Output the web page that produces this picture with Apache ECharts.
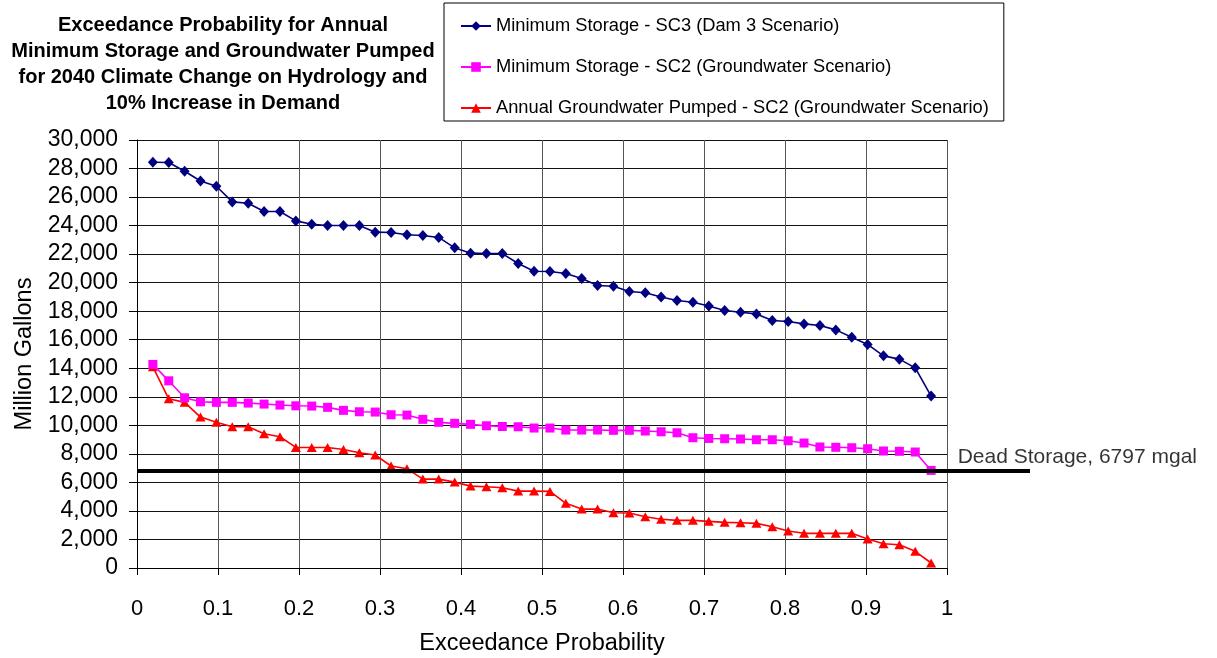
<!DOCTYPE html>
<html>
<head>
<meta charset="utf-8">
<script src="https://cdn.jsdelivr.net/npm/echarts@6/dist/echarts.min.js"></script>
<style>
  html, body { margin: 0; padding: 0; background: #fff; }
  #chart { width: 1217px; height: 658px; }
</style>
</head>
<body>
<div id="chart"></div>
<script>
// Exceedance probability (plotting positions i/51 for 50 ranked years)
const probability = [
  0.0196, 0.0392, 0.0588, 0.0784, 0.0980, 0.1176, 0.1373, 0.1569, 0.1765, 0.1961,
  0.2157, 0.2353, 0.2549, 0.2745, 0.2941, 0.3137, 0.3333, 0.3529, 0.3725, 0.3922,
  0.4118, 0.4314, 0.4510, 0.4706, 0.4902, 0.5098, 0.5294, 0.5490, 0.5686, 0.5882,
  0.6078, 0.6275, 0.6471, 0.6667, 0.6863, 0.7059, 0.7255, 0.7451, 0.7647, 0.7843,
  0.8039, 0.8235, 0.8431, 0.8627, 0.8824, 0.9020, 0.9216, 0.9412, 0.9608, 0.9804
];

// Minimum storage, SC3 (Dam 3 scenario), million gallons
const minStorageSC3 = [
  28440, 28420, 27810, 27130, 26760, 25660, 25570, 24990, 24990, 24330,
  24100, 24010, 24010, 24010, 23540, 23520, 23360, 23310, 23170, 22440,
  22070, 22040, 22040, 21340, 20800, 20780, 20640, 20290, 19800, 19750,
  19380, 19290, 19000, 18750, 18630, 18370, 18050, 17930, 17810, 17350,
  17280, 17110, 17000, 16690, 16180, 15670, 14870, 14640, 14030, 12050
];

// Minimum storage, SC2 (groundwater scenario), million gallons
const minStorageSC2 = [
  14270, 13120, 11930, 11650, 11610, 11610, 11560, 11490, 11420, 11370,
  11350, 11260, 11050, 10950, 10930, 10740, 10720, 10420, 10210, 10140,
  10070, 9970, 9920, 9900, 9810, 9810, 9670, 9670, 9670, 9650,
  9650, 9600, 9550, 9480, 9130, 9080, 9060, 9040, 8990, 8990,
  8920, 8760, 8480, 8460, 8430, 8360, 8200, 8180, 8130, 6840
];

// Annual groundwater pumped, SC2 (groundwater scenario), million gallons
const gwPumpedSC2 = [
  14100, 11860, 11610, 10580, 10210, 9900, 9900, 9410, 9200, 8450,
  8450, 8450, 8310, 8080, 7920, 7150, 6960, 6230, 6230, 6020,
  5740, 5700, 5630, 5390, 5390, 5370, 4530, 4130, 4130, 3870,
  3850, 3590, 3420, 3340, 3340, 3270, 3200, 3170, 3130, 2890,
  2590, 2430, 2430, 2430, 2430, 2030, 1700, 1630, 1170, 350
];

const seriesNames = [
  'Minimum Storage - SC3 (Dam 3 Scenario)',
  'Minimum Storage - SC2 (Groundwater Scenario)',
  'Annual Groundwater Pumped - SC2 (Groundwater Scenario)'
];

const deadStorage = 6797;
const deadStorageLabel = 'Dead Storage, 6797 mgal';
// the reference line runs past the plot to the right (0 = plot left edge, 1 = line end)
const deadStorageX = [0, 1];
const deadStorageLabelX = 0.919;

const titleLines = [
  'Exceedance Probability for Annual',
  'Minimum Storage and Groundwater Pumped',
  'for 2040 Climate Change on Hydrology and',
  '10% Increase in Demand'
];

const FONT = '"Liberation Sans", Arial, sans-serif';

function pairs(xs, ys) {
  return xs.map((x, i) => [x, ys[i]]);
}

const chart = echarts.init(document.getElementById('chart'), null, { renderer: 'canvas' });

chart.setOption({
  animation: false,
  backgroundColor: '#ffffff',
  textStyle: { fontFamily: FONT },
  title: {
    text: titleLines.join('\n'),
    left: 218,
    top: 7,
    textAlign: 'center',
    textStyle: {
      fontFamily: FONT,
      fontWeight: 'bold',
      fontSize: 20,
      lineHeight: 26,
      color: '#000'
    }
  },
  legend: {
    orient: 'vertical',
    left: 444,
    top: 3,
    padding: [14, 15, 4, 16],
    borderColor: '#000',
    borderWidth: 1,
    itemWidth: 30,
    itemHeight: 12,
    itemGap: 23,
    textStyle: { fontFamily: FONT, fontSize: 18.3, color: '#000', lineHeight: 18 },
    data: seriesNames
  },
  grid: [
    { left: 137, right: 270, top: 140, bottom: 90, containLabel: false, outerBoundsMode: 'none' },
    { left: 137, right: 187, top: 140, bottom: 90, containLabel: false, outerBoundsMode: 'none' }
  ],
  xAxis: [
    {
      type: 'value',
      gridIndex: 0,
      min: 0,
      max: 1,
      interval: 0.1,
      name: 'Exceedance Probability',
      nameLocation: 'middle',
      nameGap: 64,
      nameTextStyle: { fontFamily: FONT, fontSize: 23.5, color: '#000' },
      axisLine: { show: true, lineStyle: { color: '#000', width: 1 } },
      axisTick: { show: true, inside: false, length: 7, lineStyle: { color: '#000' } },
      axisLabel: {
        fontFamily: FONT,
        fontSize: 22,
        color: '#000',
        margin: 30,
        formatter: v => String(+v.toFixed(1))
      },
      splitLine: { show: true, lineStyle: { color: '#555', width: 1 } }
    },
    {
      type: 'value',
      gridIndex: 1,
      min: 0,
      max: 1,
      show: false
    }
  ],
  yAxis: [
    {
      type: 'value',
      gridIndex: 0,
      min: 0,
      max: 30000,
      interval: 2000,
      name: 'Million Gallons',
      nameLocation: 'middle',
      nameGap: 97,
      nameTextStyle: { fontFamily: FONT, fontSize: 23.5, color: '#000' },
      axisLine: { show: true, lineStyle: { color: '#000', width: 1 } },
      axisTick: { show: true, inside: false, length: 8, lineStyle: { color: '#000' } },
      axisLabel: {
        fontFamily: FONT,
        fontSize: 23,
        color: '#000',
        margin: 19,
        formatter: v => v.toLocaleString('en-US')
      },
      splitLine: { show: true, lineStyle: { color: '#111', width: 1 } }
    },
    {
      type: 'value',
      gridIndex: 1,
      min: 0,
      max: 30000,
      show: false
    }
  ],
  series: [
    {
      name: seriesNames[0],
      type: 'line',
      xAxisIndex: 0,
      yAxisIndex: 0,
      data: pairs(probability, minStorageSC3),
      symbol: 'diamond',
      symbolSize: [10, 11],
      itemStyle: { color: '#000080' },
      lineStyle: { color: '#000080', width: 1.6 },
      z: 5
    },
    {
      name: seriesNames[1],
      type: 'line',
      xAxisIndex: 0,
      yAxisIndex: 0,
      data: pairs(probability, minStorageSC2),
      symbol: 'rect',
      symbolSize: 9,
      itemStyle: { color: '#ff00ff' },
      lineStyle: { color: '#ff00ff', width: 1.6 },
      z: 4
    },
    {
      name: seriesNames[2],
      type: 'line',
      xAxisIndex: 0,
      yAxisIndex: 0,
      data: pairs(probability, gwPumpedSC2),
      symbol: 'triangle',
      symbolSize: [10, 9],
      itemStyle: { color: '#ff0000' },
      lineStyle: { color: '#ff0000', width: 1.6 },
      z: 3
    },
    {
      name: 'Dead Storage',
      type: 'line',
      xAxisIndex: 1,
      yAxisIndex: 1,
      symbol: 'none',
      data: deadStorageX.map(x => [x, deadStorage]),
      lineStyle: { color: '#000', width: 4 },
      silent: true,
      z: 6
    },
    {
      name: 'Dead Storage Label',
      type: 'scatter',
      xAxisIndex: 1,
      yAxisIndex: 1,
      symbol: 'circle',
      symbolSize: 1,
      data: [[deadStorageLabelX, deadStorage]],
      itemStyle: { color: 'rgba(0,0,0,0)' },
      label: {
        show: true,
        position: 'top',
        align: 'left',
        distance: 3,
        fontFamily: FONT,
        fontSize: 21,
        color: '#000',
        formatter: deadStorageLabel
      },
      silent: true,
      z: 7
    }
  ]
});
</script>
</body>
</html>
